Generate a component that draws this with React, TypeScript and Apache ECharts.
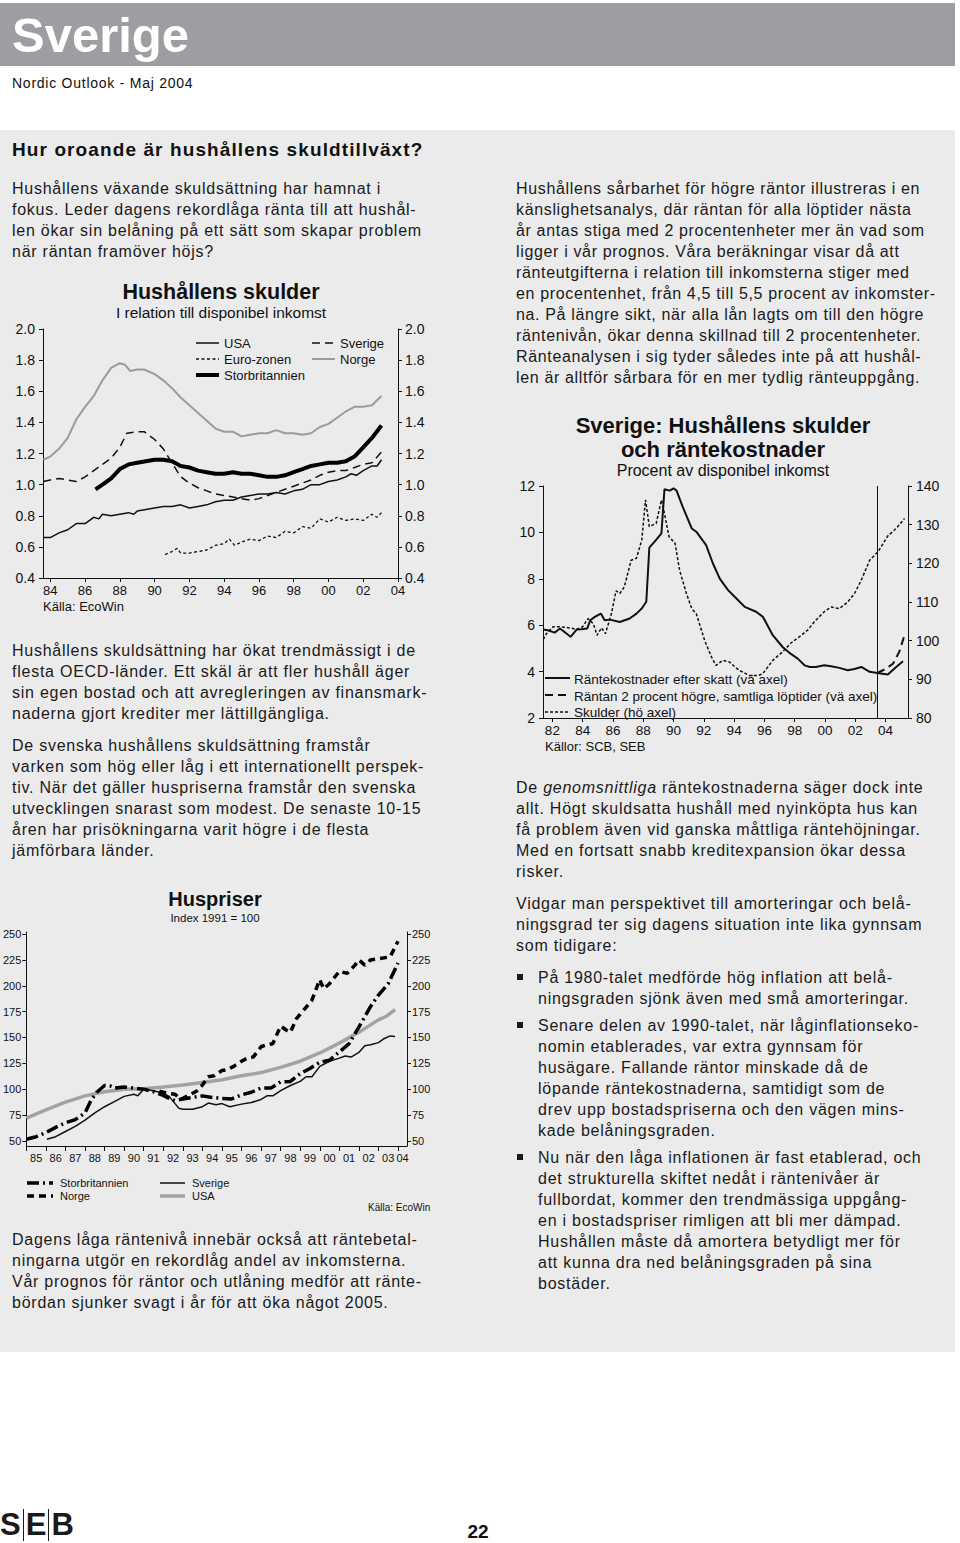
import React, { useEffect, useRef } from "react";
import * as echarts from "echarts";

const FONT = '"Liberation Sans", Arial, Helvetica, sans-serif';

// ---------- Chart 1: Hushållens skulder (I relation till disponibel inkomst) ----------
const debtTicks = [1984, 1986, 1988, 1990, 1992, 1994, 1996, 1998, 2000, 2002, 2004];
const debtUSA: [number, number][] = [
  [1983.6, 0.66], [1984, 0.66], [1984.5, 0.69], [1985, 0.71], [1985.5, 0.75], [1986, 0.75], [1986.5, 0.79],
  [1986.8, 0.78], [1987, 0.81], [1987.5, 0.80], [1988, 0.81], [1988.5, 0.82], [1988.8, 0.81], [1989, 0.83],
  [1989.5, 0.84], [1990, 0.85], [1990.5, 0.86], [1991, 0.86], [1991.5, 0.87], [1992, 0.85], [1992.5, 0.86],
  [1993, 0.87], [1993.5, 0.89], [1994, 0.90], [1994.5, 0.90], [1995, 0.92], [1995.5, 0.93], [1996, 0.94],
  [1996.5, 0.94], [1997, 0.95], [1997.5, 0.94], [1998, 0.96], [1998.5, 0.97], [1999, 1.00], [1999.5, 1.00],
  [2000, 1.02], [2000.5, 1.03], [2001, 1.05], [2001.3, 1.07], [2001.6, 1.06], [2002, 1.09], [2002.5, 1.12],
  [2002.8, 1.12], [2003.05, 1.16],
];
const debtSverige: [number, number][] = [
  [1983.6, 1.02], [1984, 1.03], [1984.5, 1.04], [1985, 1.03], [1985.5, 1.02], [1986, 1.05], [1986.5, 1.09],
  [1987, 1.13], [1987.5, 1.17], [1988, 1.24], [1988.4, 1.33], [1989, 1.34], [1989.4, 1.34], [1990, 1.29],
  [1990.5, 1.23], [1991, 1.14], [1991.5, 1.05], [1992, 1.01], [1992.5, 0.98], [1993, 0.96], [1993.5, 0.94],
  [1994, 0.93], [1994.5, 0.92], [1995, 0.91], [1995.5, 0.90], [1996, 0.91], [1996.5, 0.93], [1997, 0.95],
  [1997.5, 0.97], [1998, 0.99], [1998.5, 1.01], [1999, 1.03], [1999.5, 1.06], [2000, 1.08], [2000.5, 1.09],
  [2001, 1.09], [2001.5, 1.11], [2002, 1.13], [2002.5, 1.14], [2003.05, 1.21],
];
const debtEuro: [number, number][] = [
  [1990.6, 0.55], [1991, 0.57], [1991.3, 0.59], [1991.5, 0.56], [1992, 0.56], [1992.5, 0.57], [1993, 0.58],
  [1993.5, 0.61], [1994, 0.62], [1994.3, 0.65], [1994.6, 0.61], [1995, 0.63], [1995.5, 0.65], [1996, 0.64],
  [1996.5, 0.67], [1997, 0.66], [1997.5, 0.70], [1998, 0.69], [1998.5, 0.73], [1999, 0.72], [1999.5, 0.78],
  [2000, 0.76], [2000.5, 0.79], [2001, 0.77], [2001.5, 0.78], [2002, 0.77], [2002.5, 0.81], [2002.8, 0.79],
  [2003.05, 0.82],
];
const debtNorge: [number, number][] = [
  [1983.6, 1.16], [1984, 1.18], [1984.5, 1.23], [1985, 1.30], [1985.5, 1.42], [1986, 1.50], [1986.5, 1.57],
  [1987, 1.67], [1987.5, 1.75], [1988, 1.78], [1988.3, 1.77], [1988.6, 1.73], [1989, 1.74], [1989.4, 1.74],
  [1990, 1.71], [1990.5, 1.67], [1991, 1.62], [1991.5, 1.56], [1992, 1.51], [1992.5, 1.46], [1993, 1.41],
  [1993.5, 1.36], [1994, 1.34], [1994.5, 1.34], [1995, 1.31], [1995.5, 1.32], [1996, 1.33], [1996.5, 1.33],
  [1997, 1.35], [1997.5, 1.33], [1998, 1.33], [1998.5, 1.32], [1999, 1.33], [1999.5, 1.37], [2000, 1.39],
  [2000.5, 1.43], [2001, 1.47], [2001.5, 1.50], [2002, 1.50], [2002.5, 1.51], [2003.05, 1.57],
];
const debtUK: [number, number][] = [
  [1986.6, 0.97], [1987, 1.00], [1987.5, 1.04], [1988, 1.10], [1988.5, 1.13], [1989, 1.14], [1989.5, 1.15],
  [1990, 1.16], [1990.5, 1.16], [1991, 1.15], [1991.5, 1.12], [1992, 1.11], [1992.5, 1.09], [1993, 1.08],
  [1993.5, 1.07], [1994, 1.07], [1994.5, 1.08], [1995, 1.07], [1995.5, 1.07], [1996, 1.06], [1996.5, 1.05],
  [1997, 1.05], [1997.5, 1.06], [1998, 1.08], [1998.5, 1.10], [1999, 1.12], [1999.5, 1.13], [2000, 1.14],
  [2000.5, 1.14], [2001, 1.15], [2001.5, 1.18], [2002, 1.24], [2002.5, 1.30], [2003.05, 1.38],
];

// ---------- Chart 2: Sverige: Hushållens skulder och räntekostnader ----------
const seTicks = [1982, 1984, 1986, 1988, 1990, 1992, 1994, 1996, 1998, 2000, 2002, 2004];
const forecastStart = 2003.45;
const interestCost: [number, number][] = [
  [1981.4, 5.81], [1981.7, 5.78], [1982.15, 5.68], [1982.5, 5.86], [1982.8, 5.71], [1983.2, 5.5],
  [1983.6, 5.81], [1983.9, 5.83], [1984.3, 5.86], [1984.5, 6.21], [1984.8, 6.36], [1985.2, 6.5],
  [1985.45, 6.21], [1985.8, 6.24], [1986.45, 6.14], [1987.1, 6.29], [1987.55, 6.5], [1987.9, 6.72],
  [1988.2, 7.01], [1988.4, 9.34], [1988.75, 9.6], [1989.2, 9.96], [1989.4, 11.86], [1989.75, 11.8],
  [1990.0, 11.9], [1990.2, 11.8], [1990.6, 11.11], [1991.2, 10.17], [1991.5, 10.03], [1992.15, 9.45],
  [1992.6, 8.66], [1993.05, 8.01], [1993.6, 7.51], [1994.15, 7.15], [1994.7, 6.79], [1995.45, 6.58],
  [1995.9, 6.36], [1996.55, 5.57], [1997.2, 5.06], [1997.65, 4.81], [1998.2, 4.56], [1998.65, 4.27],
  [1999.0, 4.2], [1999.4, 4.2], [1999.95, 4.27], [2000.4, 4.23], [2000.95, 4.16], [2001.5, 4.06],
  [2001.95, 4.11], [2002.4, 4.2], [2002.95, 3.99], [2003.45, 3.94], [2004.15, 3.88], [2004.7, 4.2],
  [2005.15, 4.45],
];
const interestHigher: [number, number][] = [
  [2003.45, 3.94], [2004.05, 4.13], [2004.5, 4.35], [2004.9, 4.85], [2005.25, 5.57],
];
const householdDebt: [number, number][] = [
  [1981.4, 100.3], [1981.6, 101.8], [1982.05, 103.6], [1982.5, 103.6], [1983.15, 103.3], [1983.6, 102.9],
  [1984.0, 103.6], [1984.35, 105.7], [1984.7, 104.4], [1984.95, 101.4], [1985.25, 103.3], [1985.5, 101.8],
  [1985.9, 107.0], [1986.2, 112.9], [1986.45, 112.2], [1986.75, 113.9], [1987.2, 120.8], [1987.55, 121.3],
  [1987.9, 126.0], [1988.15, 136.4], [1988.4, 129.5], [1988.85, 130.3], [1989.2, 136.4], [1989.4, 132.9],
  [1989.7, 126.9], [1990.1, 125.2], [1990.4, 118.2], [1990.85, 112.2], [1991.2, 108.3], [1991.5, 107.0],
  [1992.05, 100.1], [1992.5, 95.8], [1992.8, 93.6], [1993.25, 94.9], [1993.7, 94.5], [1994.05, 93.2],
  [1994.35, 92.3], [1995.0, 91.0], [1995.6, 91.0], [1995.9, 91.5], [1996.55, 94.9], [1997.2, 97.1],
  [1997.75, 99.4], [1998.3, 101.0], [1998.85, 102.7], [1999.3, 104.9], [1999.95, 107.5], [2000.4, 108.7],
  [2000.95, 108.3], [2001.5, 110.0], [2001.95, 112.2], [2002.4, 115.7], [2002.95, 120.8], [2003.5, 123.0],
  [2004.15, 127.1], [2004.7, 129.0], [2005.25, 131.6],
];

// ---------- Chart 3: Huspriser (Index 1991 = 100) ----------
const hpYearTicks = [1985, 1986, 1987, 1988, 1989, 1990, 1991, 1992, 1993, 1994, 1995, 1996, 1997, 1998, 1999, 2000, 2001, 2002, 2003, 2004];
const hpLabelPos = [1985.5, 1986.5, 1987.5, 1988.5, 1989.5, 1990.5, 1991.5, 1992.5, 1993.5, 1994.5, 1995.5, 1996.5, 1997.5, 1998.5, 1999.5, 2000.5, 2001.5, 2002.5, 2003.5, 2004.23];
const hpValueTicks = [50, 75, 100, 125, 150, 175, 200, 225, 250];
const hpUK: [number, number][] = [
  [1985, 51.5], [1985.5, 54], [1986, 58], [1986.5, 63], [1987, 67.5], [1987.5, 70.5], [1988, 77], [1988.3, 89],
  [1988.6, 97], [1989, 103.5], [1989.3, 103], [1989.5, 101], [1990, 102], [1990.5, 101], [1991, 100],
  [1991.5, 97.5], [1992, 94], [1992.3, 91], [1992.6, 89], [1993, 90.5], [1993.5, 92], [1994, 93.5],
  [1994.5, 92], [1995, 91], [1995.5, 90.5], [1996, 94.5], [1996.5, 97], [1997, 101], [1997.5, 101],
  [1998, 107], [1998.5, 107.5], [1999, 115], [1999.5, 120], [2000, 126], [2000.5, 128], [2001, 136],
  [2001.5, 144], [2002, 160], [2002.3, 170], [2002.6, 180], [2003, 191], [2003.5, 202], [2003.85, 216],
  [2004.0, 222],
];
const hpNorge: [number, number][] = [
  [1991.8, 98], [1992.2, 96], [1992.6, 95], [1992.9, 90], [1993.3, 94], [1993.7, 98], [1994, 104], [1994.3, 112],
  [1994.6, 113], [1995, 118], [1995.3, 119], [1995.6, 122], [1996, 127], [1996.3, 130], [1996.6, 131],
  [1997, 141], [1997.3, 143], [1997.6, 144], [1998, 161], [1998.3, 157], [1998.5, 155], [1998.8, 168],
  [1999.2, 177], [1999.6, 186], [2000, 206], [2000.2, 197], [2000.5, 202], [2001, 214], [2001.4, 212],
  [2001.8, 220], [2002, 225], [2002.3, 220], [2002.6, 225], [2003, 226], [2003.6, 228], [2004.0, 243],
];
const hpSverige: [number, number][] = [
  [1986.05, 51.5], [1986.5, 54], [1987, 59], [1987.5, 64], [1988, 70], [1988.5, 77], [1989, 83], [1989.5, 88],
  [1990, 93], [1990.5, 95], [1990.7, 93.5], [1991, 100], [1991.5, 98.5], [1992, 96], [1992.3, 93], [1992.6, 86],
  [1992.8, 81.5], [1993, 80.5], [1993.5, 80.5], [1994, 83], [1994.3, 86.5], [1994.7, 85], [1995, 86],
  [1995.4, 83], [1996, 85.5], [1996.5, 87], [1997, 90], [1997.3, 93.5], [1997.6, 93.5], [1998, 98.5],
  [1998.5, 103.5], [1999, 107.5], [1999.3, 112], [1999.6, 112], [2000, 122], [2000.5, 127], [2001, 130],
  [2001.3, 132], [2001.6, 131], [2002, 135.5], [2002.3, 142], [2002.6, 143], [2003, 145], [2003.3, 149],
  [2003.6, 151.5], [2003.85, 151],
];
const hpUSA: [number, number][] = [
  [1985, 72], [1986, 80], [1987, 87.5], [1988, 93.5], [1989, 97.5], [1990, 100], [1991, 100.3], [1992, 102],
  [1993, 104], [1994, 106.5], [1995, 109], [1996, 113], [1997, 116], [1998, 121], [1999, 127], [2000, 135],
  [2001, 144.5], [2002, 155], [2003, 167], [2003.45, 171], [2003.85, 177],
];

// ---------- page text ----------
const leftP1 = [
  "Hushållens växande skuldsättning har hamnat i",
  "fokus. Leder dagens rekordlåga ränta till att hushål-",
  "len ökar sin belåning på ett sätt som skapar problem",
  "när räntan framöver höjs?",
];
const leftP2 = [
  "Hushållens skuldsättning har ökat trendmässigt i de",
  "flesta OECD-länder. Ett skäl är att fler hushåll äger",
  "sin egen bostad och att avregleringen av finansmark-",
  "naderna gjort krediter mer lättillgängliga.",
];
const leftP3 = [
  "De svenska hushållens skuldsättning framstår",
  "varken som hög eller låg i ett internationellt perspek-",
  "tiv. När det gäller huspriserna framstår den svenska",
  "utvecklingen snarast som modest. De senaste 10-15",
  "åren har prisökningarna varit högre i de flesta",
  "jämförbara länder.",
];
const leftP4 = [
  "Dagens låga räntenivå innebär också att räntebetal-",
  "ningarna utgör en rekordlåg andel av inkomsterna.",
  "Vår prognos för räntor och utlåning medför att ränte-",
  "bördan sjunker svagt i år för att öka något 2005.",
];
const rightP1 = [
  "Hushållens sårbarhet för högre räntor illustreras i en",
  "känslighetsanalys, där räntan för alla löptider nästa",
  "år antas stiga med 2 procentenheter mer än vad som",
  "ligger i vår prognos. Våra beräkningar visar då att",
  "ränteutgifterna i relation till inkomsterna stiger med",
  "en procentenhet, från 4,5 till 5,5 procent av inkomster-",
  "na. På längre sikt, när alla lån lagts om till den högre",
  "räntenivån, ökar denna skillnad till 2 procentenheter.",
  "Ränteanalysen i sig tyder således inte på att hushål-",
  "len är alltför sårbara för en mer tydlig ränteuppgång.",
];
const rightP2rest = [
  "allt. Högt skuldsatta hushåll med nyinköpta hus kan",
  "få problem även vid ganska måttliga räntehöjningar.",
  "Med en fortsatt snabb kreditexpansion ökar dessa",
  "risker.",
];
const rightP3 = [
  "Vidgar man perspektivet till amorteringar och belå-",
  "ningsgrad ter sig dagens situation inte lika gynnsam",
  "som tidigare:",
];
const bullets = [
  [
    "På 1980-talet medförde hög inflation att belå-",
    "ningsgraden sjönk även med små amorteringar.",
  ],
  [
    "Senare delen av 1990-talet, när låginflationseko-",
    "nomin etablerades, var extra gynnsam för",
    "husägare. Fallande räntor minskade då de",
    "löpande räntekostnaderna, samtidigt som de",
    "drev upp bostadspriserna och den vägen mins-",
    "kade belåningsgraden.",
  ],
  [
    "Nu när den låga inflationen är fast etablerad, och",
    "det strukturella skiftet nedåt i räntenivåer är",
    "fullbordat, kommer den trendmässiga uppgång-",
    "en i bostadspriser rimligen att bli mer dämpad.",
    "Hushållen måste då amortera betydligt mer för",
    "att kunna dra ned belåningsgraden på sina",
    "bostäder.",
  ],
];

const twoDigit = (v: number) => String(Math.floor(v + 1e-6) % 100).padStart(2, "0");

function lineSeries(name: string, data: [number, number][], xi: number, yi: number, style: any, extra: any = {}) {
  return {
    name,
    type: "line",
    xAxisIndex: xi,
    yAxisIndex: yi,
    data,
    showSymbol: false,
    symbol: "none",
    silent: true,
    lineStyle: style,
    ...extra,
  };
}

function legendLine(x1: number, x2: number, y: number, style: any) {
  return { type: "line", shape: { x1, y1: y, x2, y2: y }, style: { fill: null, ...style }, silent: true };
}
function gText(text: string, x: number, y: number, size: number, opts: any = {}) {
  return {
    type: "text",
    x,
    y,
    silent: true,
    style: {
      text,
      fill: "#111",
      font: `${opts.bold ? "bold " : ""}${size}px ${FONT}`,
      align: opts.align || "left",
      verticalAlign: "middle",
    },
  };
}

const axisLineStyle = { show: true, lineStyle: { color: "#111", width: 1 } };

function buildOption(): any {
  const yLbl = (size: number, margin: number, fmt?: any, custom?: number[]) => ({
    color: "#111",
    fontSize: size,
    fontFamily: FONT,
    margin,
    formatter: fmt,
    ...(custom ? { customValues: custom } : {}),
  });
  return {
    animation: false,
    backgroundColor: "transparent",
    textStyle: { fontFamily: FONT },
    grid: [
      { left: 43, top: 329, width: 355, height: 249 },
      { left: 543, top: 486, width: 365, height: 232 },
      { left: 23, top: 932, width: 384, height: 214 },
    ],
    xAxis: [
      {
        type: "value", gridIndex: 0, min: 1983.58, max: 2004,
        axisLine: axisLineStyle, splitLine: { show: false },
        axisTick: { show: true, length: 4, customValues: debtTicks, lineStyle: { color: "#111" } },
        axisLabel: { customValues: debtTicks, formatter: twoDigit, color: "#111", fontSize: 13, margin: 6, fontFamily: FONT },
      },
      {
        type: "value", gridIndex: 1, min: 1981.38, max: 2005.48,
        axisLine: axisLineStyle, splitLine: { show: false },
        axisTick: { show: true, length: 4, customValues: seTicks, lineStyle: { color: "#111" } },
        axisLabel: { customValues: seTicks, formatter: twoDigit, color: "#111", fontSize: 13.5, margin: 5, fontFamily: FONT },
      },
      {
        type: "value", gridIndex: 2, min: 1985, max: 2004.46,
        axisLine: axisLineStyle, splitLine: { show: false },
        axisTick: { show: true, length: 5, customValues: hpYearTicks, lineStyle: { color: "#111" } },
        axisLabel: { customValues: hpLabelPos, formatter: twoDigit, color: "#111", fontSize: 11, margin: 6, fontFamily: FONT },
      },
    ],
    yAxis: [
      {
        type: "value", gridIndex: 0, position: "left", min: 0.4, max: 2.0, interval: 0.2,
        axisLine: axisLineStyle, splitLine: { show: false },
        axisTick: { show: true, length: 4, lineStyle: { color: "#111" } },
        axisLabel: yLbl(14, 8, (v: number) => v.toFixed(1)),
      },
      {
        type: "value", gridIndex: 0, position: "right", min: 0.4, max: 2.0, interval: 0.2,
        axisLine: axisLineStyle, splitLine: { show: false },
        axisTick: { show: true, length: 4, lineStyle: { color: "#111" } },
        axisLabel: yLbl(14, 7, (v: number) => v.toFixed(1)),
      },
      {
        type: "value", gridIndex: 1, position: "left", min: 2, max: 12, interval: 2,
        axisLine: axisLineStyle, splitLine: { show: false },
        axisTick: { show: true, length: 4, lineStyle: { color: "#111" } },
        axisLabel: yLbl(14, 8),
      },
      {
        type: "value", gridIndex: 1, position: "right", min: 80, max: 140, interval: 10,
        axisLine: axisLineStyle, splitLine: { show: false },
        axisTick: { show: true, length: 4, lineStyle: { color: "#111" } },
        axisLabel: yLbl(14, 8),
      },
      {
        type: "value", gridIndex: 2, position: "left", min: 45, max: 252,
        axisLine: axisLineStyle, splitLine: { show: false },
        axisTick: { show: true, length: 4, customValues: hpValueTicks, lineStyle: { color: "#111" } },
        axisLabel: yLbl(11, 5, undefined, hpValueTicks),
      },
      {
        type: "value", gridIndex: 2, position: "right", min: 45, max: 252,
        axisLine: axisLineStyle, splitLine: { show: false },
        axisTick: { show: true, length: 4, customValues: hpValueTicks, lineStyle: { color: "#111" } },
        axisLabel: yLbl(11, 5, undefined, hpValueTicks),
      },
    ],
    series: [
      lineSeries("Norge", debtNorge, 0, 0, { color: "#9b9b9b", width: 2 }),
      lineSeries("USA", debtUSA, 0, 0, { color: "#111", width: 1.5 }),
      lineSeries("Sverige", debtSverige, 0, 0, { color: "#111", width: 1.5, type: [8, 5] }),
      lineSeries("Euro-zonen", debtEuro, 0, 0, { color: "#111", width: 1.3, type: [3, 2.5] }),
      lineSeries("Storbritannien", debtUK, 0, 0, { color: "#000", width: 4 }),

      lineSeries("Räntekostnader efter skatt (vä axel)", interestCost, 1, 2, { color: "#111", width: 2 }, {
        markLine: {
          silent: true, symbol: ["none", "none"], label: { show: false },
          lineStyle: { color: "#111", width: 1, type: "solid" },
          data: [{ xAxis: forecastStart }],
        },
      }),
      lineSeries("Räntan 2 procent högre, samtliga löptider (vä axel)", interestHigher, 1, 2, { color: "#111", width: 2, type: [8, 5] }),
      lineSeries("Skulder (hö axel)", householdDebt, 1, 3, { color: "#111", width: 1.5, type: [3, 2] }),

      lineSeries("USA ", hpUSA, 2, 4, { color: "#a3a3a3", width: 3.5 }),
      lineSeries("Sverige ", hpSverige, 2, 4, { color: "#111", width: 1.5 }),
      lineSeries("Storbritannien ", hpUK, 2, 4, { color: "#000", width: 3.5, type: [12, 4, 2, 4] }),
      lineSeries("Norge ", hpNorge, 2, 4, { color: "#000", width: 3.5, type: [7, 5] }),
    ],
    graphic: [
      // Chart 1 titles + legend
      gText("Hushållens skulder", 221, 292, 21.5, { bold: true, align: "center" }),
      gText("I relation till disponibel inkomst", 221, 312, 15.5, { align: "center" }),
      legendLine(196, 219, 343, { stroke: "#111", lineWidth: 1.5 }),
      gText("USA", 224, 343, 13),
      legendLine(196, 219, 359, { stroke: "#111", lineWidth: 1.3, lineDash: [3, 2.5] }),
      gText("Euro-zonen", 224, 359, 13),
      legendLine(196, 219, 375, { stroke: "#000", lineWidth: 4 }),
      gText("Storbritannien", 224, 375, 13),
      legendLine(312, 335, 343, { stroke: "#111", lineWidth: 1.5, lineDash: [8, 5] }),
      gText("Sverige", 340, 343, 13),
      legendLine(312, 335, 359, { stroke: "#9b9b9b", lineWidth: 2 }),
      gText("Norge", 340, 359, 13),
      gText("Källa: EcoWin", 43, 606, 13),

      // Chart 2 titles + legend
      gText("Sverige: Hushållens skulder", 723, 425, 22, { bold: true, align: "center" }),
      gText("och räntekostnader", 723, 449, 22, { bold: true, align: "center" }),
      gText("Procent av disponibel inkomst", 723, 470, 16, { align: "center" }),
      legendLine(545, 570, 678, { stroke: "#111", lineWidth: 2 }),
      gText("Räntekostnader efter skatt (vä axel)", 574, 679, 13.5),
      legendLine(545, 570, 695, { stroke: "#111", lineWidth: 2, lineDash: [8, 5] }),
      gText("Räntan 2 procent högre, samtliga löptider (vä axel)", 574, 696, 13.5),
      legendLine(545, 570, 712, { stroke: "#111", lineWidth: 1.5, lineDash: [3, 2] }),
      gText("Skulder (hö axel)", 574, 712, 13.5),
      gText("Källor: SCB, SEB", 545, 746, 13),

      // Chart 3 titles + legend
      gText("Huspriser", 215, 899, 20, { bold: true, align: "center" }),
      gText("Index 1991 = 100", 215, 918, 11.5, { align: "center" }),
      legendLine(27, 53, 1183, { stroke: "#000", lineWidth: 3.5, lineDash: [12, 4, 2, 4] }),
      gText("Storbritannien", 60, 1183, 11),
      legendLine(27, 53, 1196, { stroke: "#000", lineWidth: 3.5, lineDash: [7, 5] }),
      gText("Norge", 60, 1196, 11),
      legendLine(160, 185, 1183, { stroke: "#111", lineWidth: 1.5 }),
      gText("Sverige", 192, 1183, 11),
      legendLine(160, 185, 1196, { stroke: "#a3a3a3", lineWidth: 3.5 }),
      gText("USA", 192, 1196, 11),
      gText("Källa: EcoWin", 368, 1207, 10),
    ],
  };
}

const LH = 21;
function Para({ lines, left, center, width, spacing = 0.75 }: { lines: React.ReactNode[]; left: number; center: number; width: number; spacing?: number }) {
  return (
    <div style={{ position: "absolute", left, top: center - LH / 2, width, fontSize: 16, lineHeight: `${LH}px`, letterSpacing: `${spacing}px` }}>
      {lines.map((l, i) => (
        <div key={i} style={{ whiteSpace: "nowrap" }}>{l}</div>
      ))}
    </div>
  );
}

export default function App() {
  const ref = useRef<HTMLDivElement>(null);
  useEffect(() => {
    if (!ref.current) return;
    const chart = echarts.init(ref.current, null, { renderer: "svg" });
    chart.setOption(buildOption());
    return () => chart.dispose();
  }, []);

  const bulletCenters = [977, 1025, 1157];

  return (
    <div style={{ position: "absolute", left: 0, top: 0, width: 960, height: 1543, background: "#fff", fontFamily: FONT, color: "#1a1a1a", overflow: "hidden" }}>
      <div style={{ position: "absolute", left: 0, top: 3, width: 955, height: 63, background: "#9d9ea2" }} />
      <div style={{ position: "absolute", left: 12, top: 11, fontSize: 49, lineHeight: "48px", fontWeight: "bold", color: "#fff" }}>Sverige</div>
      <div style={{ position: "absolute", left: 12, top: 74, fontSize: 14, lineHeight: "18px", color: "#111", letterSpacing: "0.75px" }}>Nordic Outlook - Maj 2004</div>

      <div style={{ position: "absolute", left: 0, top: 130, width: 955, height: 1222, background: "#ebebec" }} />
      <div style={{ position: "absolute", left: 12, top: 139, fontSize: 19, lineHeight: "22px", fontWeight: "bold", color: "#111", letterSpacing: "1.1px" }}>Hur oroande är hushållens skuldtillväxt?</div>

      <Para lines={leftP1} left={12} center={188} width={430} />
      <Para lines={leftP2} left={12} center={650} width={430} />
      <Para lines={leftP3} left={12} center={745} width={430} />
      <Para lines={leftP4} left={12} center={1239} width={430} />

      <Para lines={rightP1} left={516} center={188} width={425} spacing={0.65} />
      <Para
        lines={[<span key="a">De <i>genomsnittliga</i> räntekostnaderna säger dock inte</span>, ...rightP2rest]}
        left={516}
        center={787}
        width={425}
      />
      <Para lines={rightP3} left={516} center={903} width={425} />
      {bullets.map((b, i) => (
        <React.Fragment key={i}>
          <div style={{ position: "absolute", left: 517, top: bulletCenters[i] - 3, width: 6, height: 6, background: "#1a1a1a" }} />
          <Para lines={b} left={538} center={bulletCenters[i]} width={400} />
        </React.Fragment>
      ))}

      <div style={{ position: "absolute", left: 0, top: 1509, height: 32, display: "flex", alignItems: "center", fontSize: 31, fontWeight: "bold", color: "#1a1a1a", lineHeight: "32px" }}>
        <span>S</span>
        <span style={{ width: 1, height: 32, background: "#1a1a1a", margin: "0 2px" }} />
        <span>E</span>
        <span style={{ width: 1, height: 32, background: "#1a1a1a", margin: "0 2px" }} />
        <span>B</span>
      </div>
      <div style={{ position: "absolute", left: 462, top: 1523, width: 32, textAlign: "center", fontSize: 19, lineHeight: "18px", fontWeight: "bold", color: "#111" }}>22</div>

      <div ref={ref} style={{ position: "absolute", left: 0, top: 0, width: 960, height: 1543 }} />
    </div>
  );
}
